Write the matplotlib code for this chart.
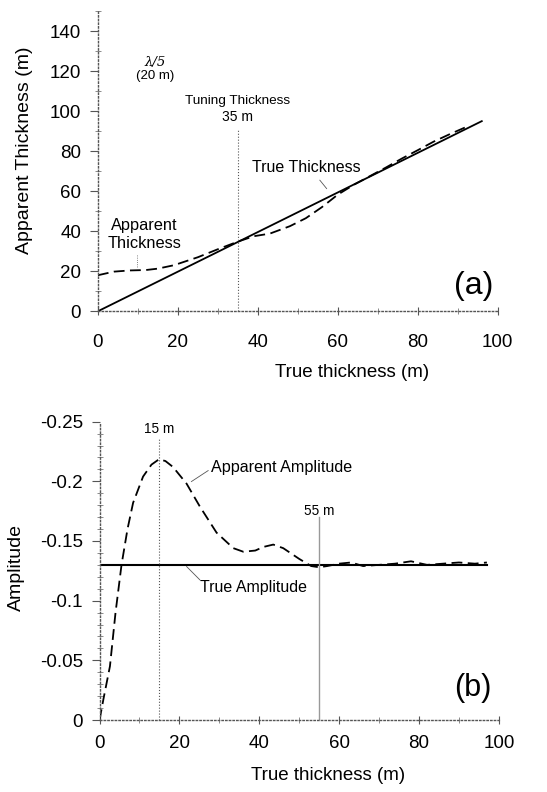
import matplotlib
matplotlib.use("Agg")
import matplotlib.pyplot as plt
from matplotlib.ticker import MultipleLocator

plt.rcParams['font.family'] = ['Liberation Sans', 'DejaVu Sans']

# ---- Panel (a) data ----
true_thick_x = [0, 96]
true_thick_y = [0, 95]
app_thick_x = [0, 4, 8, 12, 15, 19, 25, 30, 35, 39, 43, 48, 52, 56, 60, 64, 68, 72, 76, 80, 84, 88, 92]
app_thick_y = [18, 19.8, 20.4, 20.6, 21.3, 23, 27, 31, 34.8, 37.5, 38.8, 42.5, 46.5, 52, 58.3, 63.2, 67.5, 71.8, 76.3, 80.5, 84.8, 88.5, 92]
tuning_thickness = 35

# ---- Panel (b) data ----
amp_x = [0, 1, 2.6, 4, 5.5, 7, 8.4, 10.9, 13, 14.9, 16.5, 18.4, 21.8, 25.1, 29.3, 33.5, 36, 39, 41, 43.5, 46, 50, 53, 55, 57, 60, 63, 66, 70, 74, 78, 82, 86, 90, 94, 97]
amp_y = [0, -0.018, -0.045, -0.09, -0.13, -0.16, -0.182, -0.204, -0.214, -0.2185, -0.217, -0.212, -0.198, -0.179, -0.157, -0.144, -0.141, -0.142, -0.145, -0.147, -0.144, -0.135, -0.129, -0.128, -0.129, -0.131, -0.132, -0.129, -0.130, -0.131, -0.133, -0.130, -0.131, -0.132, -0.131, -0.132]
true_amp_x = [0, 97]
true_amp_y = [-0.13, -0.13]
mark15 = 15
mark55 = 55

fig = plt.figure(figsize=(5.47, 7.92), dpi=100)

def style_axes(ax, xpad):
    for s in ['top', 'right']:
        ax.spines[s].set_visible(False)
    for s in ['left', 'bottom']:
        ax.spines[s].set_linestyle(':')
        ax.spines[s].set_color('#555555')
        ax.spines[s].set_linewidth(1.0)
    ax.tick_params(axis='x', which='major', direction='inout', length=6, width=0.8, color='#555555', pad=xpad, labelsize=13.5)
    ax.tick_params(axis='y', which='major', direction='out', length=6, width=0.8, color='#555555', pad=6, labelsize=13.5)
    ax.tick_params(which='minor', direction='inout', length=4, width=0.6, color='#777777')

# ---------- Panel (a) ----------
ax1 = fig.add_axes([0.179, 0.607, 0.731, 0.379])
ax1.plot(true_thick_x, true_thick_y, color='black', lw=1.3)
ax1.plot(app_thick_x, app_thick_y, color='black', lw=1.3, ls=(0, (6, 3)))
ax1.plot([tuning_thickness, tuning_thickness], [0, 90.5], color='#555555', lw=0.8, ls=':')
ax1.set_xlim(0, 100)
ax1.set_ylim(0, 150)
ax1.set_xticks([0, 20, 40, 60, 80, 100])
ax1.set_yticks([0, 20, 40, 60, 80, 100, 120, 140])
ax1.xaxis.set_minor_locator(MultipleLocator(10))
ax1.yaxis.set_minor_locator(MultipleLocator(10))
style_axes(ax1, 13.5)
ax1.set_xlabel('True thickness (m)', fontsize=13.5)
ax1.set_ylabel('Apparent Thickness (m)', fontsize=14)
ax1.xaxis.set_label_coords(0.635, -0.177)
ax1.yaxis.set_label_coords(-0.1625, 0.537)

ax1.text(14.3, 124.5, 'λ/5', fontsize=9.5, ha='center', va='center', family='DejaVu Serif', style='italic')
ax1.text(14.3, 117.5, '(20 m)', fontsize=9.5, ha='center', va='center')
ax1.text(35, 105, 'Tuning Thickness', fontsize=9.7, ha='center', va='center')
ax1.text(35, 97, '35 m', fontsize=10, ha='center', va='center')
ax1.text(52, 72, 'True Thickness', fontsize=11.5, ha='center', va='center')
ax1.plot([55.5, 57.2], [65.5, 61.3], color='#555555', lw=0.6)
ax1.text(11.7, 43, 'Apparent', fontsize=11.8, ha='center', va='center')
ax1.text(11.7, 34, 'Thickness', fontsize=11.8, ha='center', va='center')
ax1.plot([9.7, 9.7], [28, 21.8], color='#555555', lw=0.6, ls=':')
ax1.text(94, 12.5, '(a)', fontsize=23, ha='center', va='center')

# ---------- Panel (b) ----------
ax2 = fig.add_axes([0.182, 0.0909, 0.730, 0.3767])
ax2.plot(true_amp_x, true_amp_y, color='black', lw=1.5)
ax2.plot(amp_x, amp_y, color='black', lw=1.3, ls=(0, (6, 3)))
ax2.plot([mark15, mark15], [0, -0.236], color='#555555', lw=0.8, ls=':')
ax2.plot([mark55, mark55], [0, -0.170], color='#999999', lw=1.0)
ax2.set_xlim(0, 100)
ax2.set_ylim(0, -0.25)
ax2.set_xticks([0, 20, 40, 60, 80, 100])
ax2.set_yticks([0, -0.05, -0.1, -0.15, -0.2, -0.25])
ax2.set_yticklabels(['0', '-0.05', '-0.1', '-0.15', '-0.2', '-0.25'])
ax2.xaxis.set_minor_locator(MultipleLocator(10))
ax2.yaxis.set_minor_locator(MultipleLocator(0.01))
style_axes(ax2, 8)
ax2.set_xlabel('True thickness (m)', fontsize=13.5)
ax2.set_ylabel('Amplitude', fontsize=14)
ax2.xaxis.set_label_coords(0.572, -0.158)
ax2.yaxis.set_label_coords(-0.187, 0.51)

ax2.text(15, -0.244, '15 m', fontsize=9.8, ha='center', va='center')
ax2.text(55, -0.1755, '55 m', fontsize=9.8, ha='center', va='center')
ax2.text(27.8, -0.2118, 'Apparent Amplitude', fontsize=11.6, ha='left', va='center')
ax2.plot([23, 27.2], [-0.1998, -0.209], color='#555555', lw=0.6)
ax2.text(25.1, -0.111, 'True Amplitude', fontsize=11.5, ha='left', va='center')
ax2.plot([21.8, 25.1], [-0.1286, -0.1175], color='#555555', lw=0.6)
ax2.text(93.6, -0.0268, '(b)', fontsize=22, ha='center', va='center')

fig.savefig('out.png', dpi=100)
